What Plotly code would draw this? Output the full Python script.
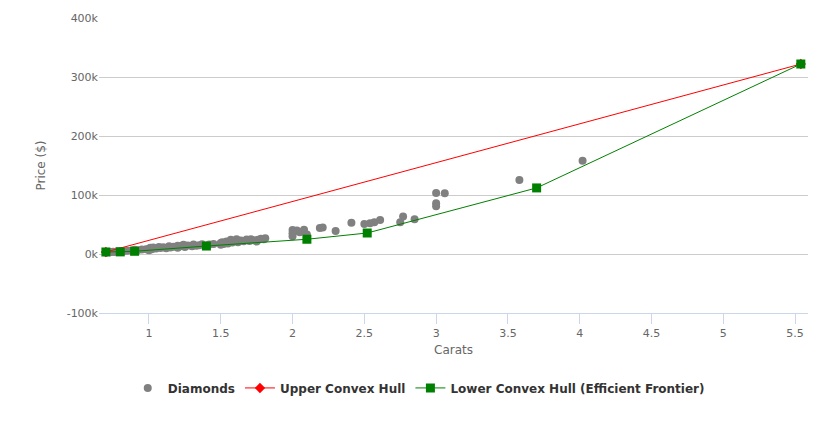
import plotly.graph_objects as go

# Diamonds (carats, price in $)
diamond_carats = [0.70, 0.70, 0.71, 0.72, 0.73, 0.75, 0.76, 0.78, 0.80, 0.80, 0.82, 0.85, 0.88, 0.90, 0.90,
                  0.92, 0.95, 0.98, 1.00, 1.00, 1.01, 1.02, 1.03, 1.05, 1.07, 1.08, 1.10, 1.12, 1.14, 1.15,
                  1.17, 1.20, 1.20, 1.22, 1.24, 1.25, 1.27, 1.30, 1.31, 1.33, 1.35, 1.37, 1.40, 1.42, 1.45,
                  1.50, 1.50, 1.51, 1.52, 1.54, 1.55, 1.57, 1.58, 1.60, 1.61, 1.62, 1.64, 1.66, 1.68, 1.70,
                  1.71, 1.73, 1.75, 1.76, 1.78, 1.80, 1.81,
                  2.00, 2.00, 2.00, 2.01, 2.03, 2.05, 2.08, 2.10, 2.19, 2.21, 2.30, 2.41, 2.50, 2.54, 2.57,
                  2.61, 2.75, 2.77, 2.85, 3.00, 3.06, 3.00, 3.00, 3.58, 4.02]
diamond_prices = [2500, 3200, 2800, 3500, 3000, 4000, 3600, 4500, 3900, 5200, 4800, 5500, 6000, 5300, 7000,
                  6500, 7500, 8000, 6500, 9000, 10500, 8000, 11000, 9500, 12000, 10000, 11500, 9800, 13000, 11000,
                  12500, 10500, 14000, 13000, 15500, 12000, 14500, 13000, 16000, 14000, 15000, 16500, 14000, 16000, 17000,
                  15500, 18500, 20000, 17000, 21000, 18000, 24000, 19500, 22000, 25000, 20000, 23000, 21500, 24500, 22000,
                  25000, 23500, 21000, 24000, 26000, 25000, 26500,
                  30000, 35000, 40500, 38000, 40000, 37000, 41000, 33000, 44000, 45000, 39000, 53000, 51000, 52000, 54000,
                  57500, 54000, 63500, 59000, 103500, 103000, 86000, 81000, 125500, 158000]

# Upper convex hull
upper_carats = [0.70, 5.54]
upper_prices = [3400, 322000]

# Lower convex hull (efficient frontier)
lower_carats = [0.70, 0.80, 0.90, 1.40, 2.10, 2.52, 3.70, 5.54]
lower_prices = [3400, 3600, 4600, 13500, 25000, 35600, 112000, 322000]

y_ticks = [-100000, 0, 100000, 200000, 300000, 400000]
y_tick_labels = ["-100k", "0k", "100k", "200k", "300k", "400k"]
x_ticks = [1, 1.5, 2, 2.5, 3, 3.5, 4, 4.5, 5, 5.5]

FONT = "DejaVu Sans, sans-serif"

fig = go.Figure()
fig.add_trace(go.Scatter(
    x=diamond_carats, y=diamond_prices, mode="markers", name="Diamonds",
    marker=dict(color="#808080", size=8, symbol="circle"),
))
fig.add_trace(go.Scatter(
    x=upper_carats, y=upper_prices, mode="lines+markers", name="Upper Convex Hull",
    line=dict(color="#ff0000", width=1),
    marker=dict(color="#ff0000", size=8, symbol="diamond"),
))
fig.add_trace(go.Scatter(
    x=lower_carats, y=lower_prices, mode="lines+markers", name="Lower Convex Hull (Efficient Frontier)",
    line=dict(color="#008000", width=1),
    marker=dict(color="#008000", size=9, symbol="square"),
))

# the page body has an 8px default margin, so the figure is slightly smaller
fig.update_layout(
    width=828, height=417,
    margin=dict(l=91, r=28, t=10, b=112, autoexpand=False),
    paper_bgcolor="white", plot_bgcolor="white",
    font=dict(family=FONT, color="#666666", size=11),
    showlegend=True,
    legend=dict(orientation="h", x=0.451, xanchor="center", y=-0.254, yanchor="middle",
                font=dict(size=12, color="#333333", family=FONT, weight="bold"),
                itemsizing="trace", itemwidth=30, tracegroupgap=0),
    xaxis=dict(
        range=[0.652, 5.59], tickvals=x_ticks, ticktext=[str(v) for v in x_ticks],
        showgrid=False, zeroline=False, showline=True, linecolor="#ccd6eb", linewidth=1,
        ticks="outside", tickcolor="#ccd6eb", ticklen=10, automargin=False,
        title=dict(text="Carats", font=dict(size=12, color="#666666"), standoff=6),
        tickfont=dict(size=11, color="#666666"),
    ),
    yaxis=dict(
        range=[-100000, 400000], tickvals=y_ticks, ticktext=y_tick_labels,
        showgrid=True, gridcolor="#cccccc", gridwidth=1, zeroline=False, automargin=False,
        ticks="", title=dict(text="Price ($)", font=dict(size=12, color="#666666"), standoff=18),
        tickfont=dict(size=11, color="#666666"),
    ),
)

fig.write_html("out.html")
